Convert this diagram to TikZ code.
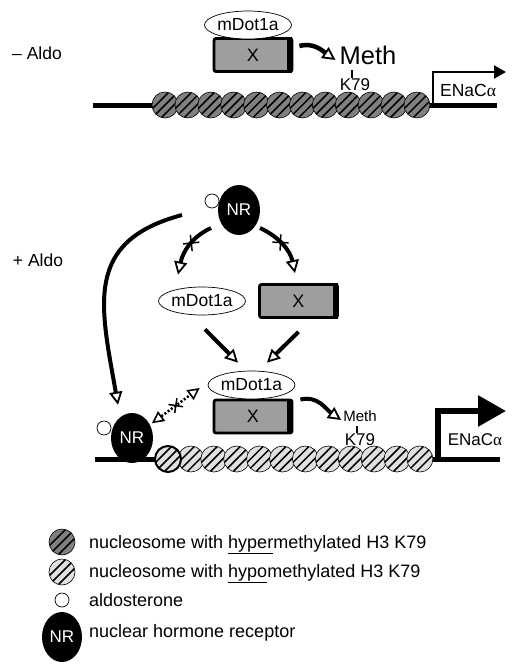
\documentclass[tikz,border=0pt]{standalone}
\usepackage{fontspec}
\setmainfont{Liberation Sans}
\newfontfamily\greekserif{Liberation Serif}
\usetikzlibrary{arrows.meta,shapes.geometric,shapes.misc}

\newcommand\fsz[1]{\fontsize{#1}{#1}\selectfont}

\tikzset{
  dna/.style={line width=5pt},
  hyper/.style={circle, draw, line width=0.6pt, fill=black!50, minimum size=26pt, inner sep=0pt,
    path picture={\foreach \d in {-9,0,9}
      \draw[line width=1.5pt] ([xshift=\d pt]path picture bounding box.center) ++(-14pt,-14pt) -- ++(28pt,28pt);}},
  hypo/.style={hyper, fill=black!12},
  enzyme/.style={ellipse, draw, line width=0.7pt, fill=white, minimum width=87pt, minimum height=28pt, inner sep=0pt, font=\fsz{17.5}},
  partner/.style={rectangle, rounded corners=2pt, draw, line width=2.8pt, fill=black!38, minimum width=78pt, minimum height=33pt, inner sep=0pt, font=\fsz{18},
    append after command={([xshift=-3.5pt]\tikzlastnode.north east) edge[draw=black, line width=5pt, -]
      ([xshift=-3.5pt]\tikzlastnode.south east)}},
  receptor/.style={ellipse, fill=black, text=white, minimum width=42pt, minimum height=50pt, inner sep=0pt, font=\fsz{17}},
  ligand/.style={circle, draw, line width=0.7pt, fill=white, minimum size=14pt, inner sep=0pt},
  act/.style={line width=4pt, -{Triangle[open, line width=1.8pt, length=13pt, width=13pt]}},
  blocked/.style={cross out, draw, line width=1.5pt, minimum size=10pt, inner sep=0pt, sloped},
  tick/.style={line width=2pt},
  lbl/.style={inner sep=1pt, font=\fsz{#1}}
}

\begin{document}
\begin{tikzpicture}[x=1pt, y=-1pt]
\useasboundingbox (0,0) rectangle (515,670);

% ---- without aldosterone ----
\node[lbl=17.5] (minus) at (37,53) {– Aldo};

\coordinate (dnaL1) at (93,105);
\coordinate (dnaR1) at (497,105);
\draw[dna] (dnaL1) -- (dnaR1);
\foreach \i in {0,...,11}
  \node[hyper] (a\i) at ({165+22.9*\i},105) {};

% promoter
\coordinate (tss1) at (433,105);
\coordinate (tip1) at (506,72);
\draw[line width=2.2pt, -{Triangle[length=12pt, width=13pt]}] (tss1) |- (tip1);
\node[lbl=17.5] (gene1) at (468,90) {ENaC{\greekserif α}};

\node[partner] (x1) at (253,55) {X};
\node[enzyme] (dot1) at (248,25) {mDot1a};

\node[lbl=25.5] (meth1) at (368,55) {Meth};
\node[lbl=17] (k1) at (355,85) {K79};
\draw[tick] ([xshift=-3pt]k1.north) -- ++(0,-8);
\draw[act, line width=4.5pt] ([shift={(6,-9)}]x1.east) to[out=15, in=145] ([shift={(-3,5)}]meth1.west);

% ---- with aldosterone ----
\node[lbl=17.5] (plus) at (38,260) {+ Aldo};

\node[receptor] (nr1) at (239,210) {NR};
\node[ligand] (ald1) at (212,201) {};

\node[enzyme] (dot2) at (202,301) {mDot1a};
\node[partner] (x2) at (298.5,301) {X};

\draw[act] ([shift={(-28,18)}]nr1.center) to[out=205, in=78]
  node[blocked, pos=.42] {} ([shift={(-24,-12)}]dot2.north);
\draw[act] ([shift={(21,18)}]nr1.center) to[out=-25, in=102]
  node[blocked, pos=.42] {} ([shift={(-3.5,-10)}]x2.north);

% DNA with hypomethylated nucleosomes
\coordinate (dnaL2) at (95,459);
\coordinate (dnaR2) at (500,459);
\draw[dna] (dnaL2) -- (dnaR2);
\foreach \i in {0,...,11}
  \node[hypo] (b\i) at ({168+22.9*\i},459) {};
\node[hypo, line width=2pt] at (b0) {};

% promoter
\coordinate (tss2) at (438,461);
\coordinate (tip2) at (506,411);
\draw[line width=6pt, -{Triangle[length=28pt, width=30pt]}] (tss2) |- (tip2);
\node[lbl=17] (gene2) at (475,440) {ENaC{\greekserif α}};

\node[partner] (x3) at (253,416.5) {X};
\node[enzyme] (dot3) at (251.5,385) {mDot1a};

\node[receptor] (nr2) at (132,438) {NR};
\node[ligand] (ald2) at (104,428) {};

\node[lbl=15] (meth2) at (360,416) {Meth};
\node[lbl=17] (k2) at (360,440) {K79};
\draw[tick] ([xshift=-3pt]k2.north) -- ++(0,-7);
\draw[act] ([shift={(7,1)}]x3.north east) to[out=15, in=145] ([shift={(-1,4)}]meth2.west);

% recruitment
\draw[act] ([shift={(3,14)}]dot2.south) -- ([shift={(-13.5,-8)}]dot3.north);
\draw[act] ([shift={(0,13)}]x2.south) -- ([shift={(15.5,-8)}]dot3.north);
\draw[act] ([shift={(-57,5)}]nr1.center) to[out=195, in=100, looseness=1.3] ([shift={(-14,-8)}]nr2.north);
\draw[line width=2.5pt, dash pattern=on 2pt off 2pt,
  {Triangle[open, line width=1.6pt, length=12pt, width=12pt]}-{Triangle[open, line width=1.6pt, length=12pt, width=12pt]}]
  ([shift={(5,3)}]nr2.north east) -- node[blocked, minimum size=9pt, solid] {} ([shift={(-8,3)}]dot3.west);

% ---- legend ----
\node[hyper] (key1) at (62,542) {};
\node[hypo] (key2) at (62,572) {};
\node[ligand] (key3) at (62,600) {};
\node[receptor, minimum width=40pt] (key4) at (62,637) {NR};
\node[lbl=18, anchor=base west] (txt1) at (88,548) {nucleosome with \underline{hyper}methylated H3 K79};
\node[lbl=18, anchor=base west] (txt2) at (88,577) {nucleosome with \underline{hypo}methylated H3 K79};
\node[lbl=18, anchor=base west] (txt3) at (88,606) {aldosterone};
\node[lbl=18, anchor=base west] (txt4) at (88,637) {nuclear hormone receptor};
\end{tikzpicture}
\end{document}
